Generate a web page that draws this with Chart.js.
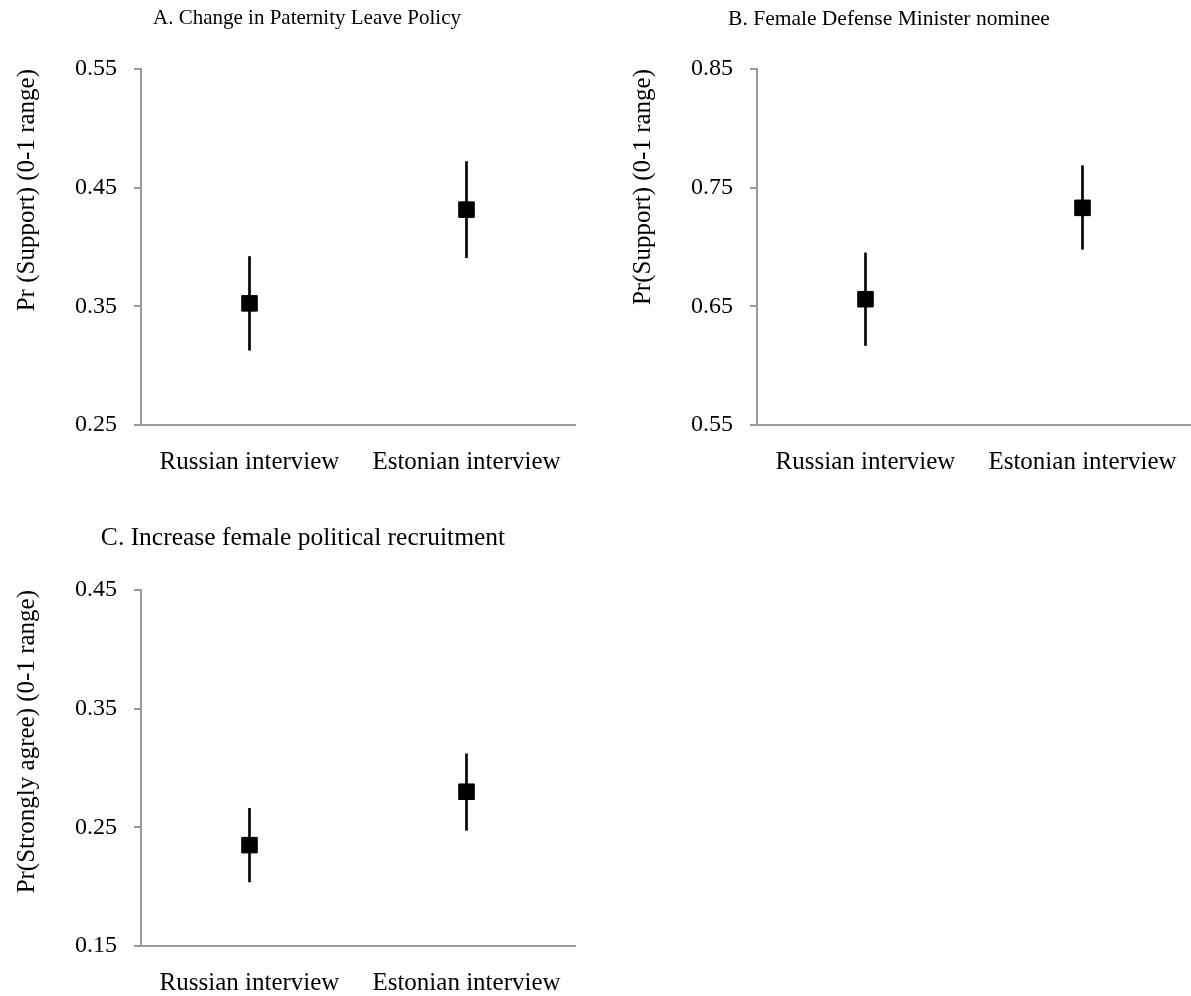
<!DOCTYPE html>
<html><head><meta charset="utf-8">
<script src="https://cdn.jsdelivr.net/npm/chart.js@4/dist/chart.umd.min.js"></script>
<style>
html,body{margin:0;padding:0;background:#fff;width:1191px;height:996px;overflow:hidden;position:relative}
.p{position:absolute}
canvas{display:block}
</style></head><body>
<div class="p" style="left:0;top:0"><canvas id="cA" width="614" height="490"></canvas></div>
<div class="p" style="left:587px;top:0"><canvas id="cB" width="604" height="490"></canvas></div>
<div class="p" style="left:0;top:520px"><canvas id="cC" width="614" height="476"></canvas></div>
<script>
const categories = ["Russian interview", "Estonian interview"];

const titleA = "A. Change in Paternity Leave Policy";
const yTitleA = "Pr (Support) (0-1 range)";
const ticksA = [0.25, 0.35, 0.45, 0.55];
const estA = [0.3525, 0.4315];
const lowA = [0.313, 0.391];
const highA = [0.392, 0.472];

const titleB = "B. Female Defense Minister nominee";
const yTitleB = "Pr(Support) (0-1 range)";
const ticksB = [0.55, 0.65, 0.75, 0.85];
const estB = [0.656, 0.733];
const lowB = [0.617, 0.698];
const highB = [0.695, 0.7685];

const titleC = "C. Increase female political recruitment";
const yTitleC = "Pr(Strongly agree) (0-1 range)";
const ticksC = [0.15, 0.25, 0.35, 0.45];
const estC = [0.235, 0.280];
const lowC = [0.204, 0.2475];
const highC = [0.266, 0.312];

const FONT = "'Liberation Serif', 'DejaVu Serif', serif";
const AXIS = '#999999';

function makeChart(id, title, yTitle, ticks, est, low, high, L) {
  const ctx = document.getElementById(id);
  new Chart(ctx, {
    type: 'bar',
    data: {
      labels: categories,
      datasets: [
        {
          type: 'line',
          data: est,
          showLine: false,
          pointStyle: 'rect',
          pointRadius: 11,
          pointHoverRadius: 11,
          pointBackgroundColor: '#000',
          pointBorderColor: '#000',
          pointBorderWidth: 1,
          order: 0
        },
        {
          type: 'bar',
          data: low.map((v, i) => [v, high[i]]),
          backgroundColor: '#000',
          borderWidth: 0,
          barThickness: 2,
          order: 1
        }
      ]
    },
    options: {
      responsive: false,
      devicePixelRatio: 1,
      animation: false,
      layout: { autoPadding: false, padding: { left: L.left, right: L.right, top: 0, bottom: 0 } },
      plugins: {
        legend: { display: false },
        tooltip: { enabled: false },
        title: {
          display: true,
          text: title,
          color: '#000',
          font: { family: FONT, size: L.titleSize, weight: 'normal' },
          padding: { top: L.titleTop, bottom: L.titleBottom }
        }
      },
      scales: {
        x: {
          type: 'category',
          offset: true,
          grid: { display: false, drawTicks: false },
          border: { display: true, color: AXIS, width: 2 },
          ticks: {
            color: '#000',
            font: { family: FONT, size: 25 },
            padding: 22,
            maxRotation: 0,
            autoSkip: false
          },
          afterFit: (s) => { s.height = L.xHeight; s.paddingLeft = 0; s.paddingRight = 0; }
        },
        y: {
          min: ticks[0],
          max: ticks[ticks.length - 1],
          grid: { drawOnChartArea: false, drawTicks: true, tickLength: 7, color: AXIS, lineWidth: 2 },
          border: { display: true, color: AXIS, width: 2 },
          ticks: {
            stepSize: 0.1,
            color: '#000',
            font: { family: FONT, size: 24 },
            padding: 17,
            callback: (v) => Number(v).toFixed(2)
          },
          afterBuildTicks: (s) => { s.ticks = ticks.map(v => ({ value: v })); },
          title: {
            display: true,
            text: yTitle,
            align: 'end',
            color: '#000',
            font: { family: FONT, size: 25 },
            padding: { top: L.yTitlePad, bottom: 0 }
          },
          afterFit: (s) => { s.width = L.yWidth; }
        }
      }
    }
  });
}

makeChart('cA', titleA, yTitleA, ticksA, estA, lowA, highA,
  { left: 39, right: 39, titleSize: 21, titleTop: 6, titleBottom: 37.8, xHeight: 65, yWidth: 102, yTitlePad: -27 });
makeChart('cB', titleB, yTitleB, ticksB, estB, lowB, highB,
  { left: 0, right: 0, titleSize: 21.5, titleTop: 6, titleBottom: 37.2, xHeight: 65, yWidth: 170, yTitlePad: 41 });
makeChart('cC', titleC, yTitleC, ticksC, estC, lowC, highC,
  { left: 31, right: 39, titleSize: 25.5, titleTop: 3, titleBottom: 36.4, xHeight: 50, yWidth: 110, yTitlePad: -19 });
</script>
</body></html>
